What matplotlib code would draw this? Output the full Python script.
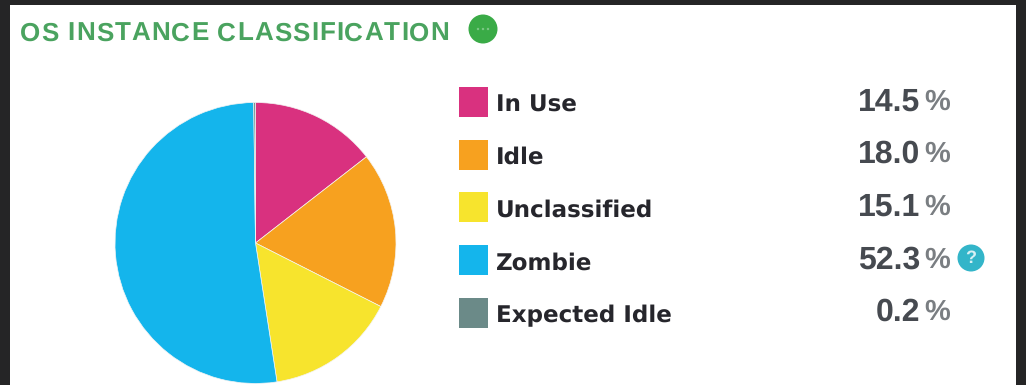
import matplotlib
matplotlib.use('Agg')
import matplotlib.pyplot as plt
from matplotlib.patches import Circle, Rectangle

plt.rcParams['text.hinting'] = 'none'
plt.rcParams['text.hinting_factor'] = 1

W, H = 1026, 385

categories = ['In Use', 'Idle', 'Unclassified', 'Zombie', 'Expected Idle']
shares = [14.5, 18.0, 15.1, 52.3, 0.2]
colors = ['#d9317f', '#f7a11f', '#f7e42d', '#14b5ec', '#6b8a88']
title = 'OS INSTANCE CLASSIFICATION'

fig = plt.figure(figsize=(W / 100, H / 100), dpi=100, facecolor='#252526')

# page-like overlay in pixel coordinates, y going down
bg = fig.add_axes([0, 0, 1, 1])
bg.set_xlim(0, W)
bg.set_ylim(H, 0)
bg.axis('off')
bg.add_patch(Rectangle((10, 5), 1006, 380, facecolor='white', edgecolor='none'))

# pie
cx, cy, r = 255.5, 243, 140.5
ax = fig.add_axes([(cx - r) / W, 1 - (cy + r) / H, 2 * r / W, 2 * r / H])
ax.pie(shares, colors=colors, startangle=90, counterclock=False, radius=1,
       wedgeprops=dict(edgecolor='#f4f4f4', linewidth=0.5))
ax.set_xlim(-1, 1)
ax.set_ylim(-1, 1)

# title, spaced out one letter at a time
renderer = fig.canvas.get_renderer()
x = 20
for ch in title:
    t = bg.text(x, 31, ch, color='#4aa35f', fontsize=18.5, fontweight='bold',
                family='Liberation Sans', va='center_baseline', ha='left')
    if ch == ' ':
        adv = 8
    else:
        adv = t.get_window_extent(renderer).width + 1.08
    x += adv

bg.add_patch(Circle((483, 29), 14.5, facecolor='#3aab47', edgecolor='none'))
for dx in (-5, 0, 5):
    bg.add_patch(Circle((483 + dx, 29), 1.2, facecolor='#7cc886', edgecolor='none'))

# legend rows and percentages
row_y = [103, 155.5, 208, 261, 313.5]
for name, val, col, y in zip(categories, shares, colors, row_y):
    bg.add_patch(Rectangle((459, y - 16), 29, 30, facecolor=col, edgecolor='none'))
    bg.text(496, y + 2, name, color='#26262c', fontsize=16.4, fontweight='bold',
            family='DejaVu Sans', va='center')
    bg.text(920, y - 1, '%.1f' % val, color='#464a50', fontsize=23, fontweight='bold',
            family='Liberation Sans', va='center', ha='right')
    bg.text(924, y - 1, '%', color='#7a7e82', fontsize=21, fontweight='bold',
            family='Liberation Sans', va='center', ha='left')

# help badge next to the Zombie value
bg.add_patch(Circle((971, 258), 13.5, facecolor='#33b5c9', edgecolor='none'))
bg.text(971, 258.5, '?', color='#d8f0f4', fontsize=13, fontweight='bold',
        family='Liberation Sans', va='center', ha='center')

fig.savefig('out.png', dpi=100, facecolor=fig.get_facecolor())
